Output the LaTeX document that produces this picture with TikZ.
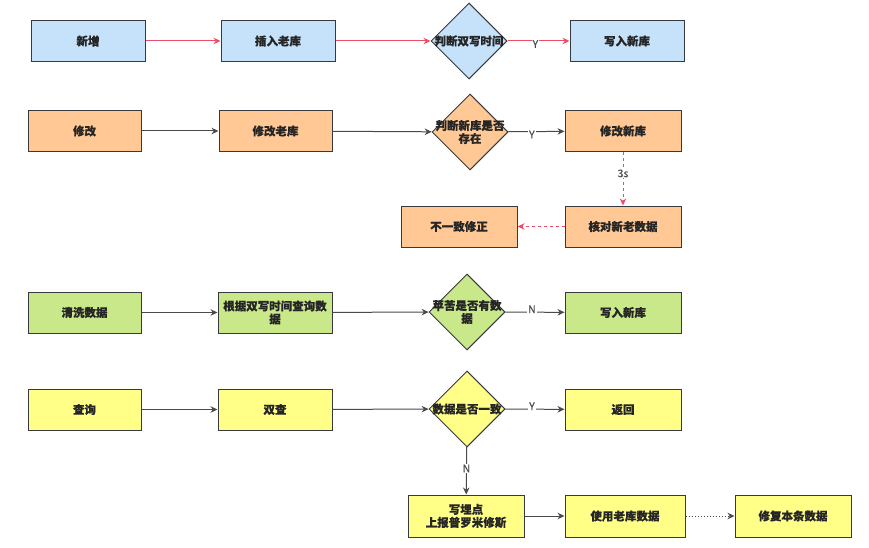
\documentclass[tikz,border=0pt]{standalone}
\usepackage{fontspec}
\setmainfont{Noto Sans CJK SC}[FakeBold=0.3]
\usetikzlibrary{shapes.geometric,arrows.meta}
\definecolor{bfill}{HTML}{C6E1FA}
\definecolor{ofill}{HTML}{FFC894}
\definecolor{gfill}{HTML}{C9E88A}
\definecolor{yfill}{HTML}{FFFF88}
\definecolor{edge}{HTML}{36393D}
\definecolor{redl}{HTML}{EC4E68}
\definecolor{grayl}{HTML}{4A4A4A}
\tikzset{
  box/.style={rectangle,draw=edge,line width=1pt,minimum width=114pt,minimum height=41pt,inner sep=1pt,font=\fontsize{11.5}{13}\bfseries,align=center,text=black!85},
  dia/.style={diamond,draw=edge,line width=1pt,minimum width=76pt,minimum height=76pt,inner sep=0pt},
  dtext/.style={font=\fontsize{11.5}{13}\bfseries,align=center,inner sep=0pt,text=black!85},
  arr/.style={-{Stealth[length=7pt,width=6.5pt]},line width=1pt,draw=grayl},
  rarr/.style={-{Stealth[length=7pt,width=6.5pt]},line width=1pt,draw=redl},
  elab/.style={fill=white,inner sep=1pt,font=\fontsize{10.5}{11}\selectfont,text=grayl}
}
\begin{document}
\begin{tikzpicture}[x=1pt,y=-1pt]
\useasboundingbox[fill=white] (0,0) rectangle (869,548);
% row 1
\node[box,fill=bfill] (a1) at (88,41) {新增};
\node[box,fill=bfill] (a2) at (278,41) {插入老库};
\node[dia,fill=bfill] (a3) at (469,41) {};
\node[dtext] (a3t) at (a3) {判断双写时间};
\node[box,fill=bfill] (a4) at (627,41) {写入新库};
\draw[rarr] (a1) -- (a2);
\draw[rarr] (a2) -- (a3);
\draw[rarr] (a3) -- node[elab,pos=0.45,yshift=-3pt] {Y} (a4);
% row 2
\node[box,fill=ofill,minimum width=113pt] (b1) at (84.5,131) {修改};
\node[box,fill=ofill,minimum width=113pt] (b2) at (275.5,131) {修改老库};
\node[dia,fill=ofill] (b3) at (470,132) {};
\node[dtext] (b3t) at (b3) {判断新库是否\\存在};
\node[box,fill=ofill,minimum width=116pt] (b4) at (623,131) {修改新库};
\node[box,fill=ofill,minimum width=116pt] (b5) at (623,226.5) {核对新老数据};
\node[box,fill=ofill,minimum width=116pt] (b6) at (459,226.5) {不一致修正};
\draw[arr] (b1) -- (b2);
\draw[arr] (b2) -- (b3);
\draw[arr] (b3) -- node[elab,pos=0.42,yshift=-3pt] {Y} (b4);
\draw[rarr,dashed] (b4) -- node[elab,pos=0.4] {3s} (b5);
\draw[rarr,dashed] (b5) -- (b6);
% row 3
\node[box,fill=gfill,minimum width=113pt] (c1) at (84.5,312.5) {清洗数据};
\node[box,fill=gfill,minimum width=114pt] (c2) at (275,312.5) {根据双写时间查询数\\据};
\node[dia,fill=gfill] (c3) at (467,312) {};
\node[dtext] (c3t) at (c3) {苹苦是否有数\\据};
\node[box,fill=gfill,minimum width=116pt] (c4) at (623,312.5) {写入新库};
\draw[arr] (c1) -- (c2);
\draw[arr] (c2) -- (c3);
\draw[arr] (c3) -- node[elab,pos=0.45,yshift=3pt] {N} (c4);
% row 4
\node[box,fill=yfill,minimum width=113pt] (d1) at (84.5,409.5) {查询};
\node[box,fill=yfill,minimum width=114pt] (d2) at (275,409.5) {双查};
\node[dia,fill=yfill] (d3) at (467,409) {};
\node[dtext] (d3t) at (d3) {数据是否一致};
\node[box,fill=yfill,minimum width=116pt] (d4) at (623,409.5) {返回};
\draw[arr] (d1) -- (d2);
\draw[arr] (d2) -- (d3);
\draw[arr] (d3) -- node[elab,pos=0.45,yshift=3pt] {Y} (d4);
% row 5
\node[box,fill=yfill,minimum width=116pt,minimum height=42pt] (e1) at (466,516) {写埋点\\上报普罗米修斯};
\node[box,fill=yfill,minimum width=120pt,minimum height=42pt] (e2) at (625,516) {使用老库数据};
\node[box,fill=yfill,minimum width=116pt,minimum height=42pt] (e3) at (793,516) {修复本条数据};
\draw[arr] (d3) -- node[elab,pos=0.45] {N} (e1);
\draw[arr] (e1) -- (e2);
\draw[arr,dotted] (e2) -- (e3);
\end{tikzpicture}
\end{document}
